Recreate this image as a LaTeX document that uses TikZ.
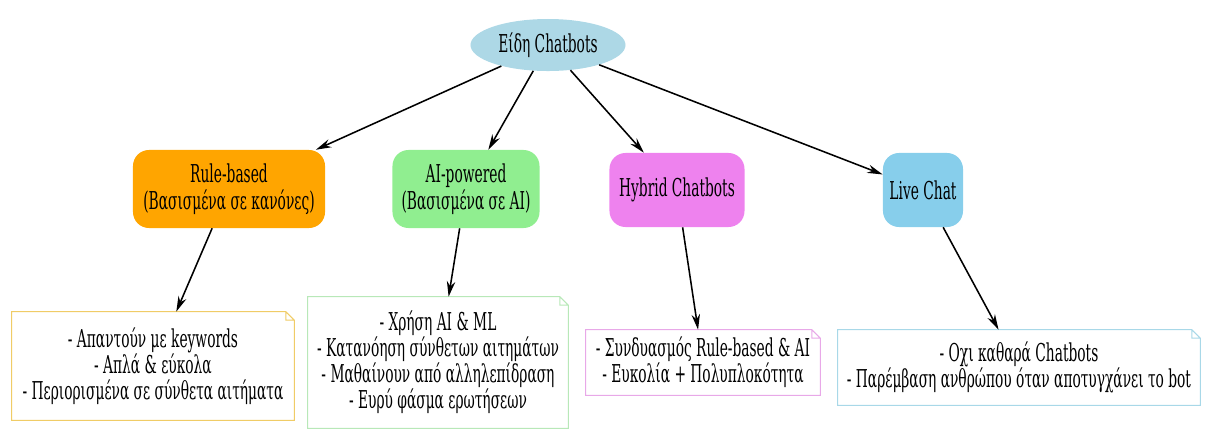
\documentclass[tikz,border=0pt]{standalone}
\usepackage{fontspec}
\setmainfont{DejaVu Serif}[FakeStretch=0.56]
\usepackage{tikz}
\usetikzlibrary{shapes.geometric}
\usetikzlibrary{arrows.meta}

\definecolor{rootblue}{HTML}{ADD8E6}
\definecolor{rulefill}{HTML}{FFA500}
\definecolor{aifill}{HTML}{90EE90}
\definecolor{hybridfill}{HTML}{EE82EE}
\definecolor{livefill}{HTML}{87CEEB}
\definecolor{ruleline}{HTML}{F0CC66}
\definecolor{ailine}{HTML}{B8E8B8}
\definecolor{hybridline}{HTML}{E8A8E8}
\definecolor{liveline}{HTML}{A8D8E8}

% folded corner of a note
\newcommand{\foldnote}[2]{\draw[#2,line width=0.7pt] (#1.south west) -- (#1.north west)
  -- ([xshift=-6pt]#1.north east) -- ([yshift=-6pt]#1.north east) -- (#1.south east) -- cycle
  ([xshift=-6pt]#1.north east) |- ([yshift=-6pt]#1.north east);}

\begin{document}
\begin{tikzpicture}[x=0.025cm,y=-0.025cm,>={Stealth[length=11pt,width=6pt]},
  kind/.style={rectangle,rounded corners=0.4cm,align=center,inner sep=2pt,
    font=\fontsize{17.5}{19.5}\selectfont},
  notebox/.style={rectangle,fill=white,align=center,inner sep=2pt,
    font=\fontsize{17.5}{18.5}\selectfont},
  link/.style={->,line width=1.1pt}]
\useasboundingbox (0,0) rectangle (1206,430);

\node[ellipse,fill=rootblue,minimum width=3.875cm,minimum height=1.3cm,
  font=\fontsize{17.5}{19.5}\selectfont] (root) at (548,45) {Είδη Chatbots};

\node[kind,fill=rulefill,minimum width=4.8cm,minimum height=1.95cm] (rule) at (229,189)
  {Rule-based\\(Βασισμένα σε κανόνες)};
\node[kind,fill=aifill,minimum width=3.675cm,minimum height=1.95cm] (ai) at (466,189)
  {AI-powered\\(Βασισμένα σε AI)};
\node[kind,fill=hybridfill,minimum width=3.375cm,minimum height=1.85cm] (hybrid) at (677,190)
  {Hybrid Chatbots};
\node[kind,fill=livefill,minimum width=2cm,minimum height=1.85cm] (live) at (923,190)
  {Live Chat};

\node[notebox,minimum width=7.05cm,minimum height=2.7cm] (rulenote) at (153,366)
  {- Απαντούν με keywords\\- Απλά \& εύκολα\\- Περιορισμένα σε σύνθετα αιτήματα};
\node[notebox,minimum width=6.5cm,minimum height=3.275cm] (ainote) at (438,362.5)
  {- Χρήση AI \& ML\\- Κατανόηση σύνθετων αιτημάτων\\- Μαθαίνουν από αλληλεπίδραση\\- Ευρύ φάσμα ερωτήσεων};
\node[notebox,minimum width=5.85cm,minimum height=1.625cm] (hybridnote) at (703,362.5)
  {- Συνδυασμός Rule-based \& AI\\- Ευκολία + Πολυπλοκότητα};
\node[notebox,minimum width=9.05cm,minimum height=1.875cm] (livenote) at (1019,367.5)
  {- Οχι καθαρά Chatbots\\- Παρέμβαση ανθρώπου όταν αποτυγχάνει το bot};

\foldnote{rulenote}{ruleline}
\foldnote{ainote}{ailine}
\foldnote{hybridnote}{hybridline}
\foldnote{livenote}{liveline}

\draw[link] (root) -- (rule);
\draw[link] (root) -- (ai);
\draw[link] (root) -- (hybrid);
\draw[link] (root) -- (live);
\draw[link] (rule) -- (rulenote);
\draw[link] (ai) -- (ainote);
\draw[link] (hybrid) -- (hybridnote);
\draw[link] (live) -- (livenote);
\end{tikzpicture}
\end{document}
